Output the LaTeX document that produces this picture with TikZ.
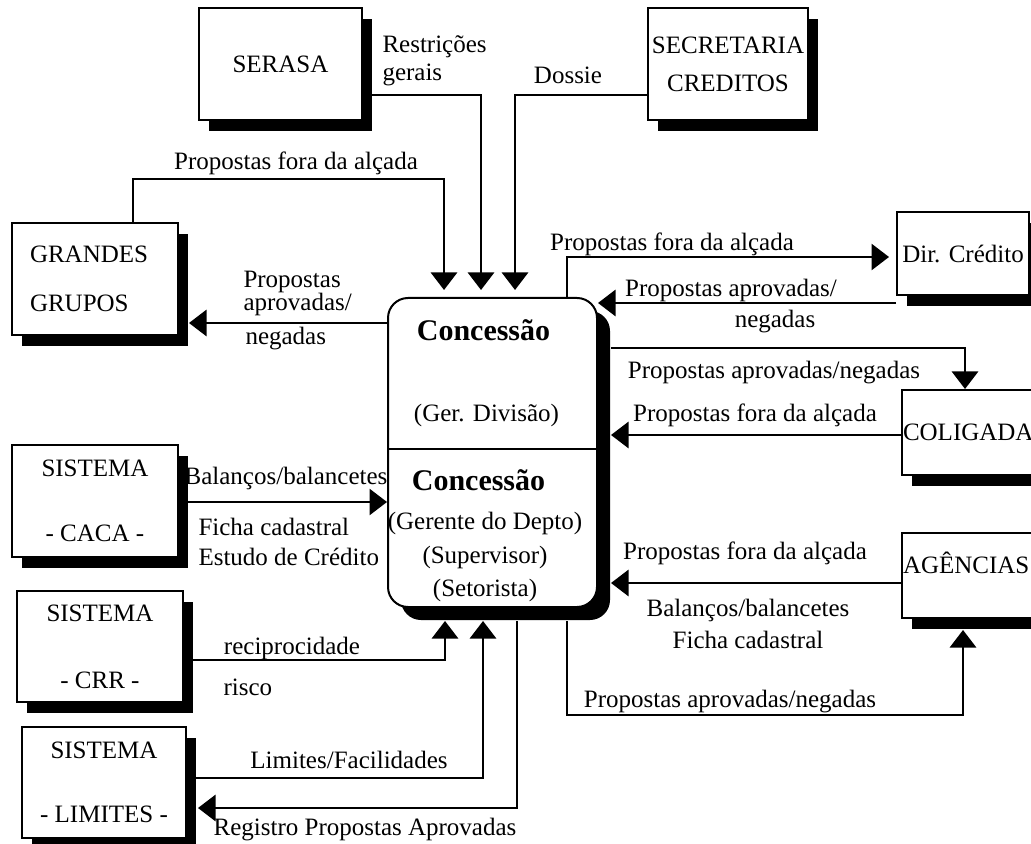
\documentclass[tikz,border=0pt]{standalone}
\usepackage{fontspec}
\setmainfont{Liberation Serif}
\usetikzlibrary{arrows.meta,shadows,positioning,calc}
\tikzset{
>={Triangle[length=7pt,width=10.5pt]},
  entidade/.style={
    rectangle,
    draw=black, line width=0.8pt,
    fill=white,
    align=center,
    inner sep=0pt,
    drop shadow={shadow xshift=4pt, shadow yshift=-4.4pt, fill=black, opacity=1}},
  processo/.style={
    rectangle, rounded corners=8pt,
    draw=black, line width=0.8pt,
    fill=white,
    minimum width=83.6pt, minimum height=123.6pt,
    drop shadow={shadow xshift=5.2pt, shadow yshift=-5.2pt, fill=black, opacity=1}},
  fluxo/.style={draw, line width=0.8pt, ->},
  rotulo/.style={inner sep=0pt},
  titulo/.style={inner sep=0pt, font=\fontsize{12}{14}\selectfont\bfseries},
}

\begin{document}
\begin{tikzpicture}[
    x=0.4pt, y=-0.4pt,
    every node/.style={font=\fontsize{10}{12}\selectfont}
    ]
	\useasboundingbox (0,0) rectangle (1031,844);
	\clip (0,0) rectangle (1031,844);

	% entidades externas
	\node[entidade, minimum width=65.2pt, minimum height=44.8pt] (serasa) at (280.5,64) {SERASA};
	\node[entidade, minimum width=64pt, minimum height=44.8pt] (secretaria) at (728,64) {SECRETARIA\\[3.2pt]CREDITOS};
	\node[entidade, minimum width=66.4pt, minimum height=44.8pt, text width=52pt, align=left] (grandes) at (95,279) {GRANDES\\[7.6pt]GRUPOS};
	\node[entidade, minimum width=66.4pt, minimum height=44.8pt] (caca) at (95,501) {SISTEMA\\[14pt]- CACA -};
	\node[entidade, minimum width=66.4pt, minimum height=44.4pt] (crr) at (100,646.5) {SISTEMA\\[14.8pt]- CRR -};
	\node[entidade, minimum width=65.6pt, minimum height=44.4pt] (limites) at (104,782.5) {SISTEMA\\[13.6pt]- LIMITES -};
	\node[entidade, minimum width=52.8pt, minimum height=33.2pt] (dir) at (963,253.5) {Dir. Crédito};
	\node[entidade, minimum width=54.4pt, minimum height=34pt, text width=53.6pt, align=left] (coligada) at (970,432.5) {COLIGADA};
	\node[entidade, minimum width=54.4pt, minimum height=34pt, text width=53.6pt, align=left, text depth=10pt] (agencias) at (970,575.5) {AGÊNCIAS};
	\coordinate (grandesE) at ([xshift=4pt]grandes.east);
	\coordinate (limitesE) at ([xshift=4.4pt]limites.east);
	\coordinate (agenciasS) at ([yshift=-4.4pt]agencias.south);

	% processo central
	\node[processo] (conc) at (492.5,452.5) {};
	\draw[line width=0.8pt] (conc.west |- 0,449) -- (conc.east |- 0,449);
	\node[titulo] (tit1) at (483.5,330) {Concessão};
	\node[rotulo] (ger) at (486.5,415) {(Ger. Divisão)};
	\node[titulo] (tit2) at (478.5,480) {Concessão};
	\node[rotulo, align=center, font=\fontsize{10}{13.4}\selectfont] (cargos) at (485,557) {(Gerente do Depto)\\(Supervisor)\\(Setorista)};
	\coordinate (concS) at ([yshift=-5.2pt]conc.south);
	\coordinate (concE) at ([xshift=5.2pt]conc.east);

	% fluxos de cima
	\draw[fluxo, shorten >=2.8pt] (grandes.north -| 133,0) -- (133,179) -| (conc.north -| 444,0);
	\draw[fluxo, shorten >=2.8pt] (serasa.east |- 0,95) -| (conc.north -| 481,0);
	\draw[fluxo, shorten >=2.8pt] (secretaria.west |- 0,95) -| (conc.north -| 515,0);
	\node[rotulo] (l1) at (296,163) {Propostas fora da alçada};
	\node[rotulo, align=left, anchor=west, font=\fontsize{10}{11.2}\selectfont] (l2) at (382,61) {Restrições\\gerais};
	\node[rotulo] (l3) at (568,75) {Dossie};

	% lado esquerdo
	\draw[fluxo] (conc.west |- 0,323) -- (grandesE |- 0,323);
	\node[rotulo, align=left, anchor=west, font=\fontsize{10}{9.2}\selectfont] (l4) at (243,293.5) {Propostas\\aprovadas/};
	\node[rotulo, anchor=west] (l5) at (245,339) {negadas};

	\draw[fluxo] (caca.east |- 0,502) -- (conc.west |- 0,502);
	\node[rotulo] (l6) at (286,478) {Balanços/balancetes};
	\node[rotulo, align=left, anchor=west] (l7) at (198,542) {Ficha cadastral\\Estudo de Crédito};

	\draw[fluxo] (crr.east |- 0,660) -| (concS -| 445,0);
	\node[rotulo] (l8) at (292,648) {reciprocidade};
	\node[rotulo, anchor=west] (l9) at (223,687) {risco};

	\draw[fluxo] (limites.east |- 0,778) -| (concS -| 483,0);
	\node[rotulo] (l10) at (349,760) {Limites/Facilidades};
	\draw[fluxo] (concS -| 517,0) |- (limitesE |- 0,808);
	\node[rotulo] (l11) at (365,830) {Registro Propostas Aprovadas};

	% lado direito
	\draw[fluxo, shorten >=2.8pt] (conc.north -| 567,0) |- (dir.west |- 0,257);
	\node[rotulo] (l12) at (672,244) {Propostas fora da alçada};
	\draw[fluxo] (dir.west |- 0,303) -- (conc.east |- 0,303);
	\node[rotulo] (l13) at (731,290) {Propostas aprovadas/};
	\node[rotulo] (l14) at (775,322) {negadas};

	\draw[fluxo] (concE |- 0,348) -| (coligada.north -| 965,0);
	\node[rotulo] (l15) at (774,373) {Propostas aprovadas/negadas};
	\draw[fluxo] (coligada.west |- 0,435) -- (concE |- 0,435);
	\node[rotulo] (l16) at (755,415) {Propostas fora da alçada};

	\draw[fluxo] (agencias.west |- 0,583) -- (concE |- 0,583);
	\node[rotulo] (l17) at (745,553) {Propostas fora da alçada};
	\node[rotulo, align=center, font=\fontsize{10}{12.8}\selectfont] (l18) at (748,624) {Balanços/balancetes\\Ficha cadastral};
	\draw[fluxo] (concS -| 567,0) -- (567,715) -| (agenciasS -| 963,0);
	\node[rotulo] (l19) at (730,702) {Propostas aprovadas/negadas};

\end{tikzpicture}
\end{document}
